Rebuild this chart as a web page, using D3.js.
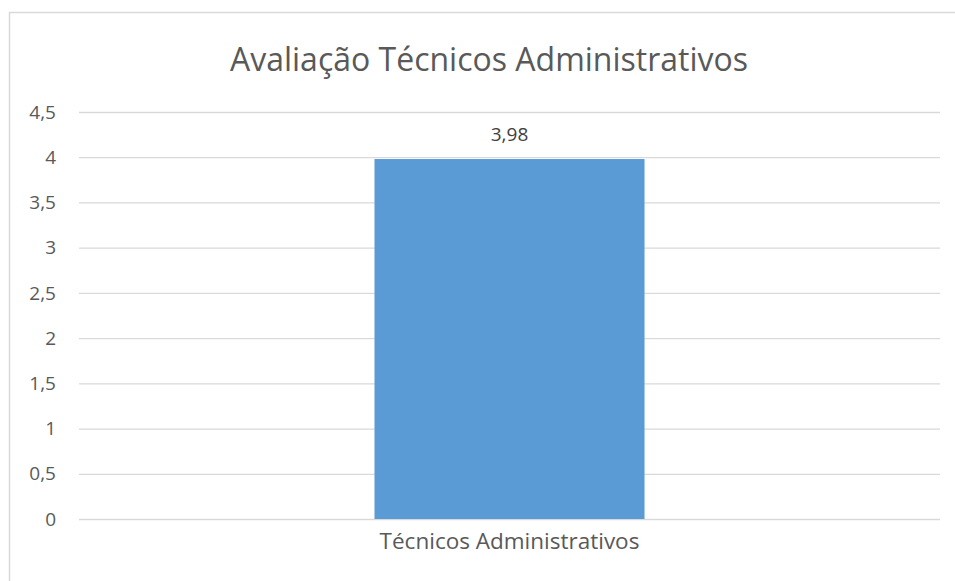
<!DOCTYPE html>
<html>
<head>
<meta charset="utf-8">
<script src="https://cdn.jsdelivr.net/npm/d3@7"></script>
<style>
  body { margin: 0; background: #fff; }
  text { font-family: "Open Sans", "Noto Sans", sans-serif; fill: #595959; }
</style>
</head>
<body>
<svg id="chart" width="955" height="581"></svg>
<script>
var title = "Avaliação Técnicos Administrativos";
var categories = ["Técnicos Administrativos"];
var values = [3.98];
var yTicks = [0, 0.5, 1, 1.5, 2, 2.5, 3, 3.5, 4, 4.5];

var svg = d3.select("#chart");

// outer chart border
svg.append("rect")
    .attr("x", 9.5).attr("y", 12.5)
    .attr("width", 960).attr("height", 600)
    .attr("fill", "none")
    .attr("stroke", "#d9d9d9")
    .attr("stroke-width", 1.5);

var plotLeft = 79, plotRight = 940, plotTop = 112, plotBottom = 519;

var yScale = d3.scaleLinear().domain([0, 4.5]).range([plotBottom, plotTop]);
var xScale = d3.scaleBand().domain(categories).range([plotLeft, plotRight])
    .paddingInner(0.5225).paddingOuter(0.5225);

// gridlines
svg.selectAll("line.grid")
    .data(yTicks)
    .enter()
    .append("line")
    .attr("class", "grid")
    .attr("x1", plotLeft).attr("x2", plotRight)
    .attr("y1", function(d) { return yScale(d) + 0.5; })
    .attr("y2", function(d) { return yScale(d) + 0.5; })
    .attr("stroke", "#d9d9d9")
    .attr("stroke-width", 1.3);

// y tick labels
svg.selectAll("text.ytick")
    .data(yTicks)
    .enter()
    .append("text")
    .attr("class", "ytick")
    .attr("x", 56)
    .attr("y", function(d) { return yScale(d); })
    .attr("dy", "0.35em")
    .attr("text-anchor", "end")
    .style("font-size", "19px")
    .text(function(d) { return String(d).replace(".", ","); });

// bars
svg.selectAll("rect.bar")
    .data(values)
    .enter()
    .append("rect")
    .attr("class", "bar")
    .attr("x", function(d, i) { return xScale(categories[i]); })
    .attr("y", function(d) { return yScale(d); })
    .attr("width", xScale.bandwidth())
    .attr("height", function(d) { return plotBottom - yScale(d); })
    .attr("fill", "#5b9bd5");

// data labels
svg.selectAll("text.label")
    .data(values)
    .enter()
    .append("text")
    .attr("class", "label")
    .attr("x", function(d, i) { return xScale(categories[i]) + xScale.bandwidth() / 2; })
    .attr("y", function(d) { return yScale(d) - 18; })
    .attr("text-anchor", "middle")
    .style("font-size", "19px")
    .style("fill", "#404040")
    .text(function(d) { return d3.format(".2f")(d).replace(".", ","); });

// category labels
svg.selectAll("text.xtick")
    .data(categories)
    .enter()
    .append("text")
    .attr("class", "xtick")
    .attr("x", function(d) { return xScale(d) + xScale.bandwidth() / 2; })
    .attr("y", 549)
    .attr("text-anchor", "middle")
    .style("font-size", "22.5px")
    .text(function(d) { return d; });

// title
svg.append("text")
    .attr("x", 489)
    .attr("y", 71)
    .attr("text-anchor", "middle")
    .style("font-size", "32px")
    .text(title);
</script>
</body>
</html>
